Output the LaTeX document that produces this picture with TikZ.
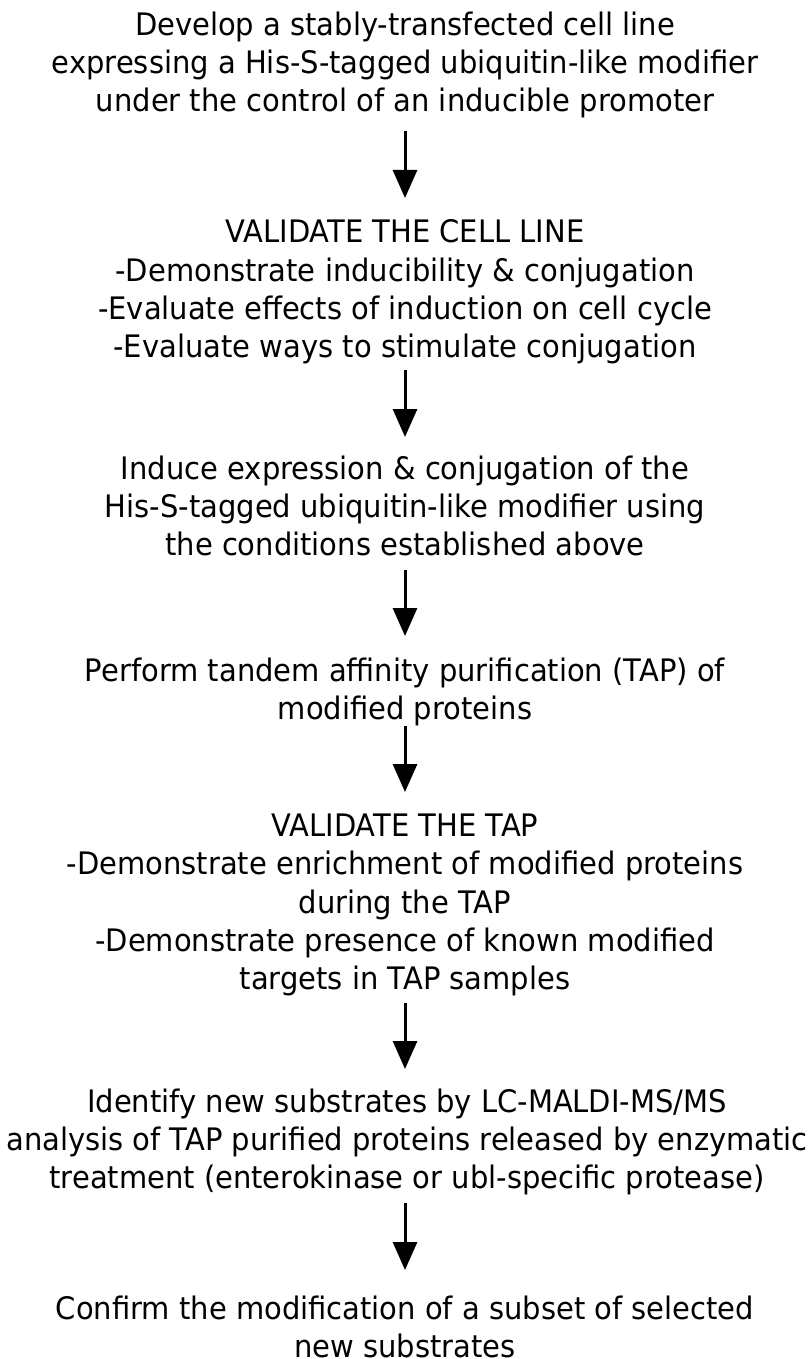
\documentclass[tikz,border=0pt]{standalone}
\usepackage{fontspec}
\setmainfont{DejaVu Sans}[FakeStretch=0.935]
\usetikzlibrary{arrows.meta}

\begin{document}
\begin{tikzpicture}[x=1pt, y=-1pt,
  stage/.style = {align=center, inner sep=0pt, font=\fontsize{31}{38.3}\selectfont},
  flow/.style = {line width=3pt, -{Triangle[width=24pt, length=28pt]}}]
\useasboundingbox (0,0) rectangle (809,1359);
\node[stage] (dev) at (405,65) {Develop a stably-transfected cell line\\expressing a His-S-tagged ubiquitin-like modifier\\under the control of an inducible promoter};
\node[stage] (valcell) at (405,292) {VALIDATE THE CELL LINE\\-Demonstrate inducibility \& conjugation\\-Evaluate effects of induction on cell cycle\\-Evaluate ways to stimulate conjugation};
\node[stage] (induce) at (405,506) {Induce expression \& conjugation of the\\His-S-tagged ubiquitin-like modifier using\\the conditions established above};
\node[stage] (tap) at (405,692) {Perform tandem affinity purification (TAP) of\\modified proteins};
\node[stage] (valtap) at (405,905) {VALIDATE THE TAP\\-Demonstrate enrichment of modified proteins\\during the TAP\\-Demonstrate presence of known modified\\targets in TAP samples};
\node[stage] (ident) at (407,1142) {Identify new substrates by LC-MALDI-MS/MS\\analysis of TAP purified proteins released by enzymatic\\treatment (enterokinase or ubl-specific protease)};
\node[stage] (confirm) at (405,1327) {Confirm the modification of a subset of selected\\new substrates};

\draw[flow, shorten <=66pt, shorten >=94pt] (dev.center) -- (valcell.center);
\draw[flow, shorten <=78pt, shorten >=69pt] (valcell.center) -- (induce.center);
\draw[flow, shorten <=64pt, shorten >=56pt] (induce.center) -- (tap.center);
\draw[flow, shorten <=34pt, shorten >=113pt] (tap.center) -- (valtap.center);
\draw[flow, shorten <=98pt, shorten >=73pt] (valtap.center) -- (valtap.center |- ident.center);
\draw[flow, shorten <=61pt, shorten >=57pt] (confirm.center |- ident.center) -- (confirm.center);
\end{tikzpicture}
\end{document}
